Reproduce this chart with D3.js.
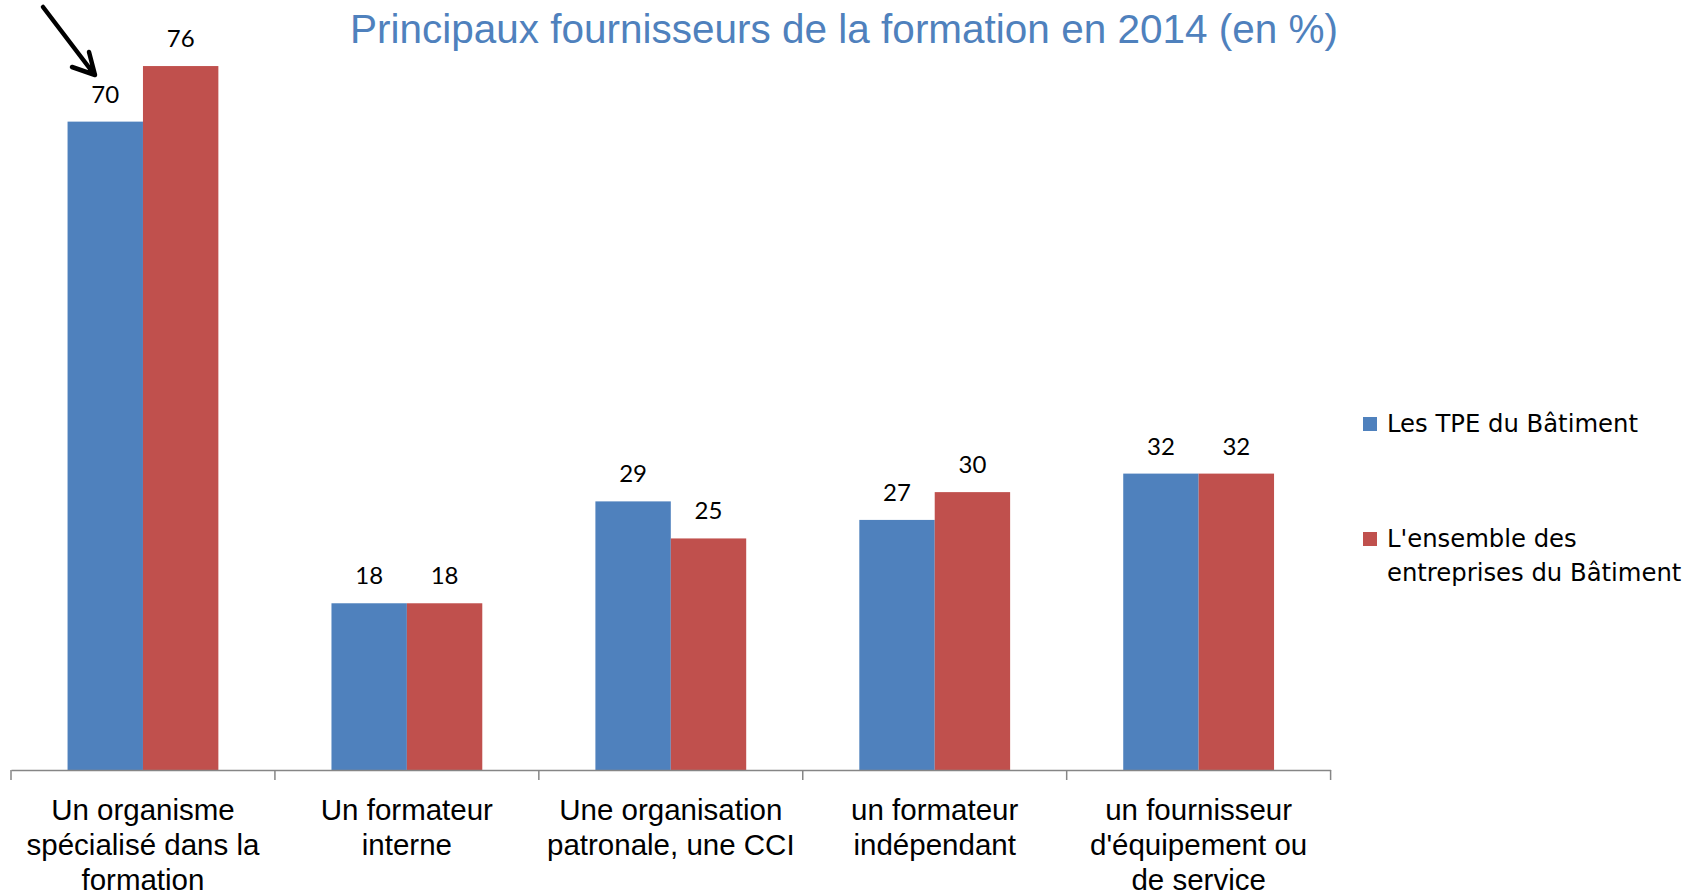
<!DOCTYPE html>
<html>
<head>
<meta charset="utf-8">
<script src="https://cdn.jsdelivr.net/npm/d3@7"></script>
<style>
  body { margin: 0; background: #fff; }
  svg { display: block; }
</style>
</head>
<body>
<svg width="1699" height="895"></svg>
<script>
// chart data
const categories = ["Un organisme spécialisé dans la formation", "Un formateur interne", "Une organisation patronale, une CCI", "un formateur indépendant", "un fournisseur d'équipement ou de service"]
const labelLines = [["Un organisme", "spécialisé dans la", "formation"], ["Un formateur", "interne"], ["Une organisation", "patronale, une CCI"], ["un formateur", "indépendant"], ["un fournisseur", "d'équipement ou", "de service"]]
const series = ["Les TPE du Bâtiment", "L'ensemble des entreprises du Bâtiment"]
const tpe = [70, 18, 29, 27, 32]
const ensemble = [76, 18, 25, 30, 32]
const colors = ["#4F81BD", "#C0504D"]

const svg = d3.select("svg")

// scales
const x0 = d3.scaleBand().domain(categories).range([11, 1330.6]).paddingInner(0).paddingOuter(0)
const x1 = d3.scaleBand().domain(series).range([0, x0.bandwidth()]).paddingInner(0).paddingOuter(0.75)
const y = d3.scaleLinear().domain([0, 80]).range([770, 29])

const rows = categories.map((c, i) => ({cat: c, values: [tpe[i], ensemble[i]]}))

// title
svg.append("text")
  .attr("x", 350).attr("y", 43)
  .attr("textLength", 988).attr("lengthAdjust", "spacingAndGlyphs")
  .attr("font-family", "Liberation Sans, Arial, sans-serif")
  .attr("font-size", "41px")
  .attr("fill", "#4F81BD")
  .text("Principaux fournisseurs de la formation en 2014 (en %)")

// bars
const groups = svg.append("g").selectAll("g")
  .data(rows).enter().append("g")
  .attr("transform", d => `translate(${x0(d.cat)},0)`)

groups.selectAll("rect")
  .data(d => d.values.map((v, j) => ({s: series[j], v: v, j: j})))
  .enter().append("rect")
  .attr("x", d => x1(d.s))
  .attr("y", d => y(d.v))
  .attr("width", x1.bandwidth())
  .attr("height", d => y(0) - y(d.v))
  .attr("fill", d => colors[d.j])

groups.selectAll("text.val")
  .data(d => d.values.map((v, j) => ({s: series[j], v: v, j: j})))
  .enter().append("text")
  .attr("class", "val")
  .attr("x", d => x1(d.s) + x1.bandwidth() / 2)
  .attr("y", d => y(d.v) - 19)
  .attr("text-anchor", "middle")
  .attr("font-family", "Lato, sans-serif")
  .attr("font-size", "24px")
  .attr("fill", "#000")
  .text(d => d.v)

// x axis
const axis = svg.append("g")
  .attr("transform", `translate(0,${y(0)})`)
  .call(d3.axisBottom(x0).tickSize(0).tickFormat(""))
axis.select(".domain").attr("stroke", "#868686").attr("stroke-width", 1.5)

const bounds = categories.map(c => x0(c)).concat([x0.range()[1]])
axis.selectAll("line.bound")
  .data(bounds).enter().append("line")
  .attr("class", "bound")
  .attr("x1", d => d).attr("x2", d => d)
  .attr("y1", 0).attr("y2", 10)
  .attr("stroke", "#868686").attr("stroke-width", 1.5)

const catLabels = svg.append("g").selectAll("text")
  .data(rows).enter().append("text")
  .attr("text-anchor", "middle")
  .attr("font-family", "Liberation Sans, Arial, sans-serif")
  .attr("font-size", "29.5px")
  .attr("fill", "#000")

catLabels.selectAll("tspan")
  .data((d, i) => labelLines[i].map(l => ({l: l, cx: x0(d.cat) + x0.bandwidth() / 2})))
  .enter().append("tspan")
  .attr("x", d => d.cx)
  .attr("y", (d, k) => 820 + k * 35)
  .text(d => d.l)

// legend
const legendLines = [["Les TPE du Bâtiment"], ["L'ensemble des", "entreprises du Bâtiment"]]
const legendY = [417, 532]
const leg = svg.append("g").selectAll("g")
  .data(series).enter().append("g")
  .attr("transform", (d, i) => `translate(1363,${legendY[i]})`)

leg.append("rect")
  .attr("width", 14).attr("height", 14)
  .attr("fill", (d, i) => colors[i])

leg.append("text")
  .attr("font-family", "DejaVu Sans, Verdana, sans-serif")
  .attr("font-size", "24.3px")
  .attr("fill", "#000")
  .selectAll("tspan")
  .data((d, i) => legendLines[i])
  .enter().append("tspan")
  .attr("x", 24)
  .attr("y", (d, k) => 15 + k * 34)
  .text(d => d)

// arrow annotation
svg.append("path")
  .attr("d", "M43,7 L94,74 M89,52 L95,75 L72,67")
  .attr("fill", "none")
  .attr("stroke", "#000")
  .attr("stroke-width", 4.5)
  .attr("stroke-linecap", "round")
  .attr("stroke-linejoin", "round")
</script>
</body>
</html>
